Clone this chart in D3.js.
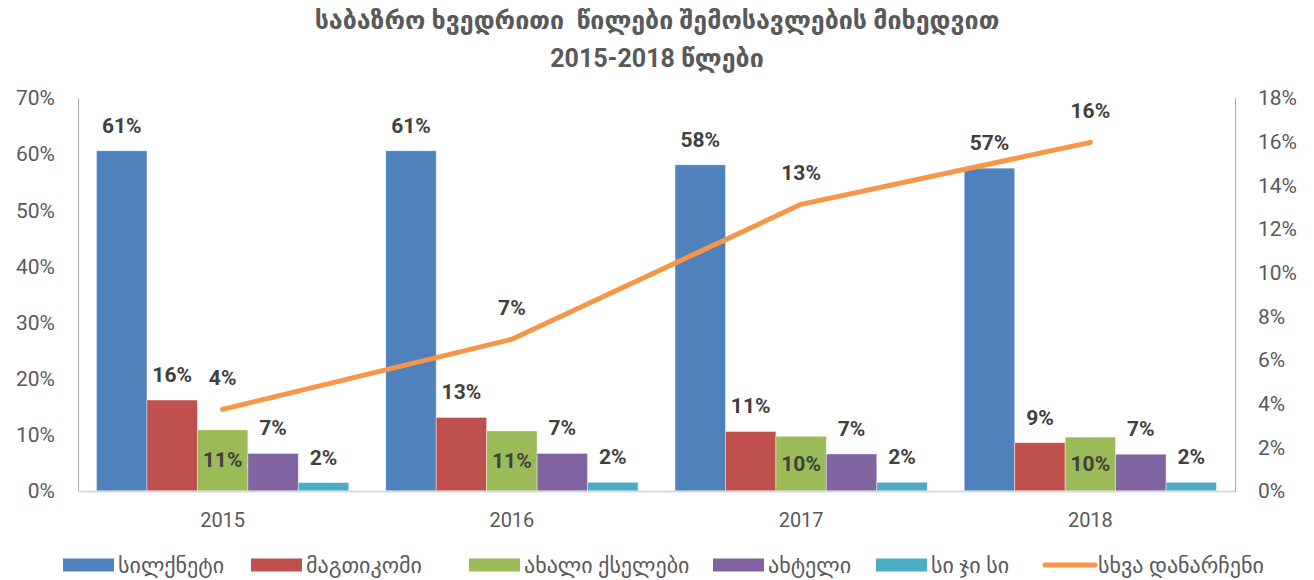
<!DOCTYPE html>
<html>
<head>
<meta charset="utf-8">
<script src="https://cdn.jsdelivr.net/npm/d3@7"></script>
<style>
  html, body { margin: 0; padding: 0; background: #fff; }
  svg { display: block; }
</style>
</head>
<body>
<svg id="chart" width="1314" height="580"></svg>
<script>
// ---- data ----
const years = ["2015", "2016", "2017", "2018"];
const seriesNames = ["სილქნეტი", "მაგთიკომი", "ახალი ქსელები", "ახტელი", "სი ჯი სი"];
const silknet   = [0.606, 0.606, 0.581, 0.575];
const magticom  = [0.162, 0.131, 0.106, 0.086];
const newNets   = [0.109, 0.107, 0.0975, 0.096];
const aqtel     = [0.067, 0.067, 0.066, 0.0655];
const cgc       = [0.015, 0.0155, 0.0155, 0.0155];
const lineName  = "სხვა დანარჩენი";
const others    = [0.0374, 0.0695, 0.1313, 0.1597];
const leftTicks  = [0, 0.1, 0.2, 0.3, 0.4, 0.5, 0.6, 0.7];
const rightTicks = [0, 0.02, 0.04, 0.06, 0.08, 0.10, 0.12, 0.14, 0.16, 0.18];
const titleLines = ["საბაზრო ხვედრითი  წილები შემოსავლების მიხედვით", "2015-2018 წლები"];

// ---- style ----
const barColors = ["#4F81BD", "#C0504D", "#9BBB59", "#8064A2", "#4BACC6"];
const lineColor = "#F79646";
const seriesValues = [silknet, magticom, newNets, aqtel, cgc];

const svg = d3.select("#chart");
const pLeft = 78, pRight = 1235, pTop = 98, pBottom = 491;

const x0 = d3.scaleBand().domain(years).range([pLeft, pRight]).paddingInner(0).paddingOuter(0);
const x1 = d3.scaleBand().domain(seriesNames).range([0, x0.bandwidth()]).paddingInner(0).paddingOuter(0.367);
const yL = d3.scaleLinear().domain([0, 0.7]).range([pBottom, pTop]);
const yR = d3.scaleLinear().domain([0, 0.18]).range([pBottom, pTop]);

const tickFont = "Roboto, 'Liberation Sans', sans-serif";
const geoFont = "Roboto, 'DejaVu Sans', sans-serif";

// title
svg.append("g").selectAll("text").data(titleLines).join("text")
  .attr("x", 657).attr("y", (d, i) => 20 + i * 38)
  .attr("text-anchor", "middle").attr("dominant-baseline", "central")
  .style("white-space", "pre")
  .attr("font-family", geoFont).attr("font-weight", "bold").attr("font-size", 25)
  .attr("fill", "#595959").text(d => d);

// axes
const axL = d3.axisLeft(yL).tickValues(leftTicks).tickFormat(d3.format(".0%")).tickSize(0).tickPadding(23);
const gL = svg.append("g").attr("transform", `translate(${pLeft},0)`).call(axL);
gL.select(".domain").attr("stroke", "#595959").attr("stroke-dasharray", "1,1");
gL.selectAll("text").attr("font-family", tickFont).attr("font-size", 21).attr("fill", "#595959");

const axR = d3.axisRight(yR).tickValues(rightTicks).tickFormat(d3.format(".0%")).tickSize(0).tickPadding(23);
const gR = svg.append("g").attr("transform", `translate(${pRight},0)`).call(axR);
gR.select(".domain").attr("stroke", "#595959").attr("stroke-dasharray", "1,1");
gR.selectAll("text").attr("font-family", tickFont).attr("font-size", 21).attr("fill", "#595959");

// bars
const groups = svg.append("g").selectAll("g").data(years).join("g")
  .attr("transform", d => `translate(${x0(d)},0)`);
seriesNames.forEach((name, si) => {
  groups.append("rect")
    .attr("x", x1(name)).attr("width", x1.bandwidth())
    .attr("y", (d, i) => yL(seriesValues[si][i]))
    .attr("height", (d, i) => pBottom - yL(seriesValues[si][i]))
    .attr("fill", barColors[si])
    .attr("stroke", "#ffffff").attr("stroke-opacity", 0.5).attr("stroke-width", 0.8);
});

// x baseline
svg.append("line").attr("x1", pLeft).attr("x2", pRight).attr("y1", pBottom + 0.5).attr("y2", pBottom + 0.5)
  .attr("stroke", "#D9D9D9").attr("stroke-width", 2);

// x axis labels
const axB = d3.axisBottom(x0).tickSize(0).tickPadding(22);
const gB = svg.append("g").attr("transform", `translate(0,${pBottom})`).call(axB);
gB.select(".domain").remove();
gB.selectAll("text").attr("font-family", tickFont).attr("font-size", 20).attr("fill", "#595959");

// bar labels
const fmt = v => Math.round(v * 100) + "%";
seriesNames.forEach((name, si) => {
  groups.append("text")
    .attr("x", x1(name) + x1.bandwidth() / 2)
    .attr("y", (d, i) => si === 2
      ? (yL(seriesValues[si][i]) + pBottom) / 2
      : yL(seriesValues[si][i]) - 25)
    .attr("text-anchor", "middle").attr("dominant-baseline", "central")
    .attr("font-family", tickFont).attr("font-weight", "bold").attr("font-size", 21)
    .attr("fill", "#404040")
    .text((d, i) => fmt(seriesValues[si][i]));
});

// line
const lx = (d, i) => x0(years[i]) + x0.bandwidth() / 2;
const line = d3.line().x(lx).y(d => yR(d));
svg.append("path").datum(others).attr("d", line)
  .attr("fill", "none").attr("stroke", lineColor).attr("stroke-width", 5)
  .attr("stroke-linecap", "round").attr("stroke-linejoin", "round");
svg.append("g").selectAll("text").data(others).join("text")
  .attr("x", lx).attr("y", d => yR(d) - 31)
  .attr("text-anchor", "middle").attr("dominant-baseline", "central")
  .attr("font-family", tickFont).attr("font-weight", "bold").attr("font-size", 21)
  .attr("fill", "#404040").text(d => fmt(d));

// legend
const legendX = [63, 251, 469, 713, 876, 1043];
const legendItems = seriesNames.map((n, i) => ({ name: n, color: barColors[i], type: "bar" }))
  .concat([{ name: lineName, color: lineColor, type: "line" }]);
const lg = svg.append("g").selectAll("g").data(legendItems).join("g")
  .attr("transform", (d, i) => `translate(${legendX[i]},565)`);
lg.filter(d => d.type === "bar").append("rect")
  .attr("x", 0).attr("y", -6.5).attr("width", 51).attr("height", 13).attr("fill", d => d.color);
lg.filter(d => d.type === "line").append("line")
  .attr("x1", 2).attr("x2", 52).attr("y1", 0).attr("y2", 0)
  .attr("stroke", d => d.color).attr("stroke-width", 5).attr("stroke-linecap", "round");
lg.append("text").attr("x", 55).attr("y", 0).attr("dominant-baseline", "central")
  .attr("font-family", geoFont).attr("font-size", 22).attr("fill", "#595959")
  .text(d => d.name);
</script>
</body>
</html>
